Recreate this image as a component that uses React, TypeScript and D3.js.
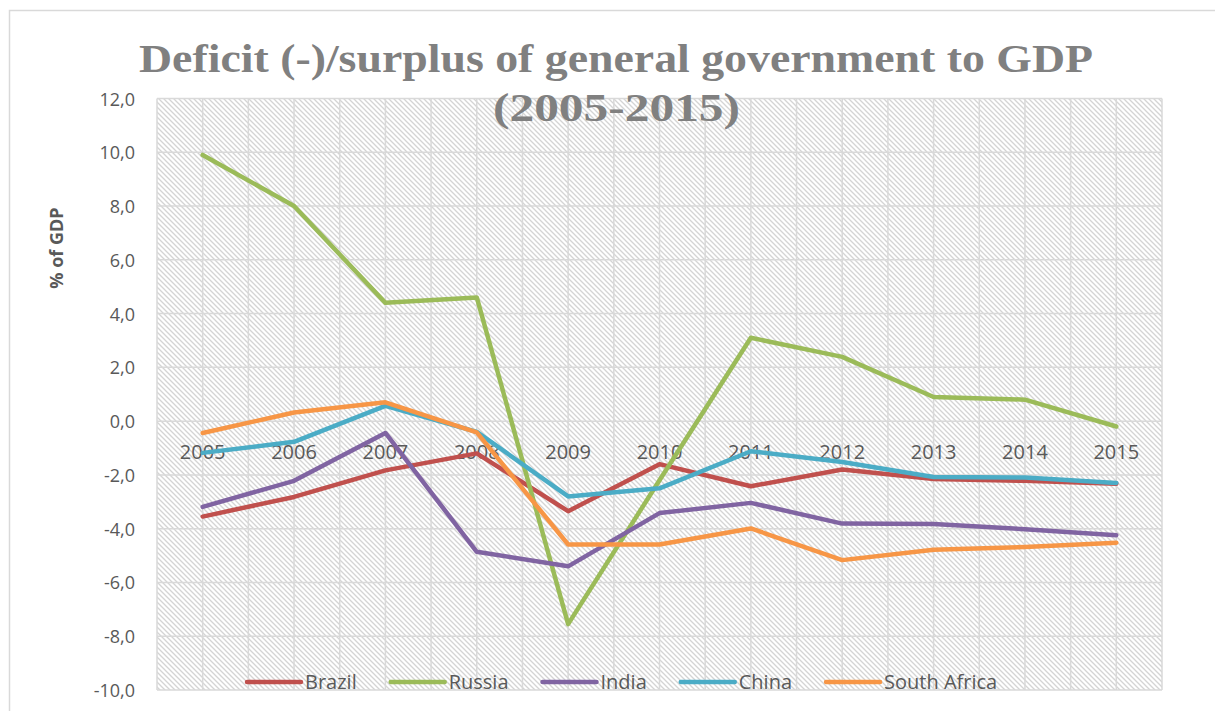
import React from "react";
import * as d3 from "d3";

const years = ["2005", "2006", "2007", "2008", "2009", "2010", "2011", "2012", "2013", "2014", "2015"];
const brazil = [-3.55, -2.82, -1.83, -1.2, -3.35, -1.6, -2.42, -1.8, -2.15, -2.22, -2.33];
const russia = [9.9, 8.0, 4.4, 4.6, -7.55, -2.2, 3.1, 2.39, 0.9, 0.8, -0.2];
const india = [-3.19, -2.22, -0.44, -4.86, -5.4, -3.42, -3.04, -3.81, -3.83, -4.02, -4.24];
const china = [-1.18, -0.77, 0.57, -0.4, -2.8, -2.5, -1.12, -1.52, -2.08, -2.1, -2.3];
const southAfrica = [-0.44, 0.32, 0.7, -0.42, -4.59, -4.59, -3.99, -5.17, -4.78, -4.68, -4.52];
const yTicks = [12, 10, 8, 6, 4, 2, 0, -2, -4, -6, -8, -10];

const seriesNames = ["Brazil", "Russia", "India", "China", "South Africa"];
const seriesValues = [brazil, russia, india, china, southAfrica];
const seriesColors = ["#C0504D", "#9BBB59", "#8064A2", "#4BACC6", "#F79646"];

const W = 1215;
const H = 711;
const plot = { left: 157, right: 1162, top: 98.5, bottom: 690 };

function measure(text: string, font: string): number {
  const c = document.createElement("canvas");
  const ctx = c.getContext("2d");
  if (!ctx) return text.length * 10;
  ctx.font = font;
  return ctx.measureText(text).width;
}

export default function App() {
  const x = d3
    .scaleBand<string>()
    .domain(years)
    .range([plot.left, plot.right]);
  const y = d3.scaleLinear().domain([-10, 12]).range([plot.bottom, plot.top]);
  const cx = (yr: string) => (x(yr) as number) + x.bandwidth() / 2;

  const line = d3
    .line<number>()
    .x((_, i) => cx(years[i]))
    .y((v) => y(v));

  const halfSteps = d3.range(0, years.length * 2 + 1).map((i) => plot.left + (i * x.bandwidth()) / 2);

  const fmt = (v: number) => v.toFixed(1).replace(".", ",");

  const legendFont = "20px 'Open Sans'";
  const sampleLen = 54;
  let lx = 247;
  const legendItems = seriesNames.map((name, i) => {
    const item = { name, color: seriesColors[i], x: lx };
    lx += sampleLen + 4 + measure(name, legendFont) + 34;
    return item;
  });

  return (
    <svg width={W} height={H} style={{ display: "block", position: "absolute", left: 0, top: 0 }}>
      <defs>
        <pattern id="hatch" width="5" height="5" patternUnits="userSpaceOnUse">
          <rect width="5" height="5" fill="#ffffff" />
          <path d="M-1,-1 L6,6 M-1,4 L1,6 M4,-1 L6,1" stroke="#d4d4d4" strokeWidth="1.3" />
        </pattern>
      </defs>
      <rect x={0} y={0} width={W} height={H} fill="#ffffff" />
      <rect x={9.5} y={10.5} width={W + 10} height={H + 10} fill="#ffffff" stroke="#d9d9d9" strokeWidth={1.5} />

      <text
        x={616}
        y={72}
        textAnchor="middle"
        fontFamily="'Liberation Serif', 'DejaVu Serif', serif"
        fontWeight="bold"
        fontSize={41}
        fill="#808080"
        textLength={954}
        lengthAdjust="spacingAndGlyphs"
      >
        Deficit (-)/surplus of general government to GDP
      </text>

      <rect
        x={plot.left}
        y={plot.top}
        width={plot.right - plot.left}
        height={plot.bottom - plot.top}
        fill="url(#hatch)"
      />

      {yTicks.map((t) => (
        <line key={"h" + t} x1={plot.left} x2={plot.right} y1={y(t)} y2={y(t)} stroke="#d9d9d9" strokeWidth={1.5} />
      ))}
      {halfSteps.map((px, i) => (
        <line key={"v" + i} x1={px} x2={px} y1={plot.top} y2={plot.bottom} stroke="#d9d9d9" strokeWidth={1.5} />
      ))}

      <text
        x={616.5}
        y={121}
        textAnchor="middle"
        fontFamily="'Liberation Serif', 'DejaVu Serif', serif"
        fontWeight="bold"
        fontSize={41}
        fill="#808080"
        textLength={247}
        lengthAdjust="spacingAndGlyphs"
      >
        (2005-2015)
      </text>

      {yTicks.map((t) => (
        <text
          key={"yt" + t}
          x={135}
          y={y(t) + 7}
          textAnchor="end"
          fontFamily="'Open Sans', sans-serif"
          fontSize={18}
          fill="#595959"
        >
          {fmt(t)}
        </text>
      ))}

      <text
        transform={`translate(63,${248}) rotate(-90)`}
        textAnchor="middle"
        fontFamily="'Open Sans', sans-serif"
        fontWeight="bold"
        fontSize={18}
        fill="#595959"
      >
        % of GDP
      </text>

      {years.map((yr) => (
        <text
          key={"xl" + yr}
          x={cx(yr)}
          y={y(0) + 38}
          textAnchor="middle"
          fontFamily="'Open Sans', sans-serif"
          fontSize={20}
          fill="#595959"
        >
          {yr}
        </text>
      ))}

      {seriesValues.map((vals, i) => (
        <path
          key={"s" + i}
          d={line(vals) || ""}
          fill="none"
          stroke={seriesColors[i]}
          strokeWidth={4.5}
          strokeLinejoin="round"
          strokeLinecap="round"
        />
      ))}

      {legendItems.map((it) => (
        <g key={"lg" + it.name}>
          <line
            x1={it.x}
            x2={it.x + sampleLen}
            y1={682}
            y2={682}
            stroke={it.color}
            strokeWidth={4.5}
            strokeLinecap="round"
          />
          <text
            x={it.x + sampleLen + 4}
            y={689}
            fontFamily="'Open Sans', sans-serif"
            fontSize={20}
            fill="#595959"
          >
            {it.name}
          </text>
        </g>
      ))}
    </svg>
  );
}
